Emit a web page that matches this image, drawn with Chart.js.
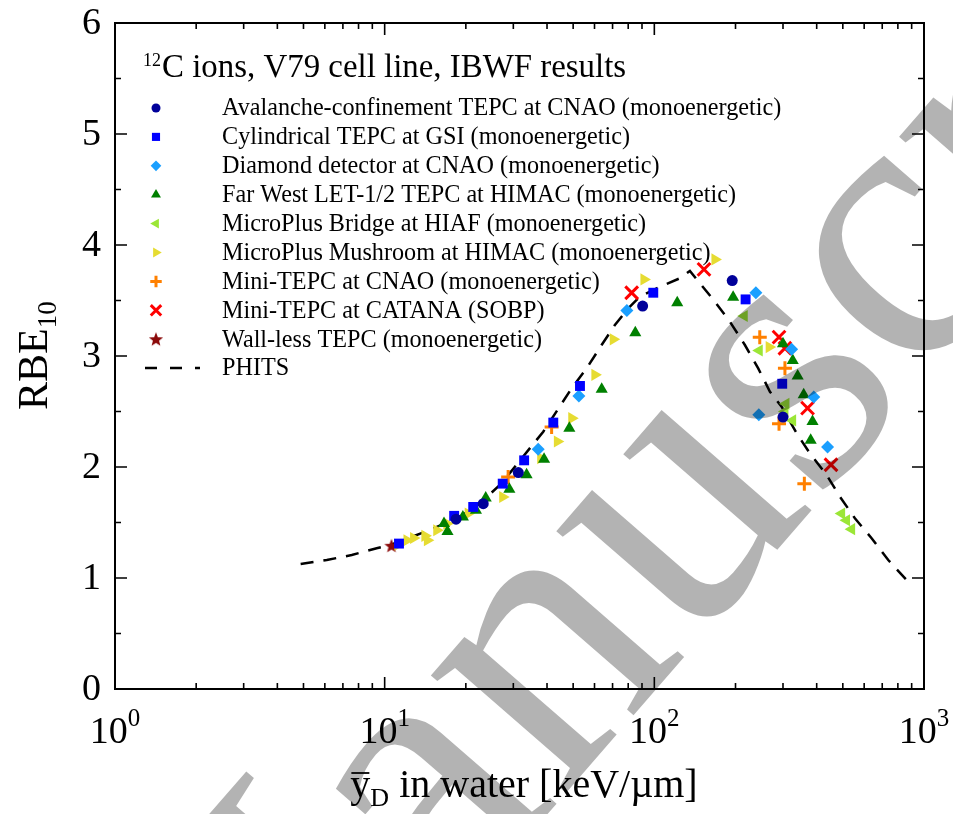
<!DOCTYPE html>
<html><head><meta charset="utf-8">
<script src="https://cdn.jsdelivr.net/npm/chart.js@4/dist/chart.umd.min.js"></script>
<style>html,body{margin:0;padding:0;background:#fff;overflow:hidden}#wrap{width:953px;height:814px;position:relative}</style>
</head><body><div id="wrap"><canvas id="c" width="953" height="814"></canvas></div>
<script>
// ---------- data ----------
const seriesNames = [
  'Avalanche-confinement TEPC at CNAO (monoenergetic)',
  'Cylindrical TEPC at GSI (monoenergetic)',
  'Diamond detector at CNAO (monoenergetic)',
  'Far West LET-1/2 TEPC at HIMAC (monoenergetic)',
  'MicroPlus Bridge at HIAF (monoenergetic)',
  'MicroPlus Mushroom at HIMAC (monoenergetic)',
  'Mini-TEPC at CNAO (monoenergetic)',
  'Mini-TEPC at CATANA (SOBP)',
  'Wall-less TEPC (monoenergetic)',
  'PHITS'
];
const avalancheCNAO = [[18.4,1.53],[23.2,1.67],[31.3,1.95],[90.5,3.45],[194.5,3.68],[300,2.45]];
const cylindricalGSI = [[11.3,1.31],[18.1,1.56],[21.3,1.64],[27.4,1.85],[32.9,2.06],[42.2,2.40],[53.0,2.73],[99.1,3.57],[218,3.51],[298,2.75]];
const diamondCNAO = [[37.1,2.16],[52.5,2.64],[79.1,3.41],[238,3.57],[323,3.06],[244,2.47],[390,2.63],[439,2.18]];
const farWestHIMAC = [[16.6,1.49],[17.1,1.42],[19.5,1.55],[21.8,1.61],[23.7,1.72],[29.0,1.80],[33.6,1.93],[39.0,2.07],[48.4,2.35],[63.8,2.70],[85.0,3.21],[121.6,3.48],[196,3.53],[300,3.11],[326,2.96],[340,2.82],[358,2.65],[386,2.41],[380,2.24]];
const bridgeHIAF = [[215.5,3.36],[245,3.05],[307.6,2.57],[305,2.50],[325.7,2.42],[495,1.58],[516,1.52],[539,1.44]];
const mushroomHIMAC = [[11.2,1.30],[12.1,1.34],[12.8,1.36],[14.1,1.38],[14.4,1.34],[15.6,1.43],[17.0,1.49],[20.4,1.58],[27.4,1.73],[37.9,2.08],[43.7,2.23],[49.4,2.44],[60.2,2.83],[70.4,3.15],[91.5,3.69],[167.8,3.87],[266.7,3.08]];
const miniCNAO = [[28.7,1.91],[41.6,2.36],[246,3.17],[305,2.89],[290,2.39],[360,1.85]];
const miniCATANA = [[82.4,3.57],[152.8,3.78],[290,3.17],[305,3.07],[370,2.53],[452,2.02]];
const walllessTEPC = [[10.6,1.29]];
const phitsX = [4.88,6.1,7.55,9.34,10.46,14.72,19.02,22.56,27.15,30.41,38.73,49.37,56.1,63.76,71.4,80.05,88.4,102,124.3,135.5,147.6,167.8,190.7,216.7,242.8,268.4,296.5,337,377.5,435.4,487.9,554.3,639.3,736.9,862,890];
const phitsY = [1.126,1.162,1.207,1.268,1.297,1.432,1.552,1.673,1.853,2.003,2.318,2.709,2.889,3.099,3.279,3.43,3.534,3.61,3.70,3.766,3.655,3.489,3.309,3.099,2.889,2.678,2.543,2.304,2.123,1.928,1.732,1.538,1.358,1.162,0.982,0.95];
const xTickValues = [1,10,100,1000];
const xTickExponents = ['0','1','2','3'];
const yTickValues = [0,1,2,3,4,5,6];

// ---------- helpers ----------
const SERIF = '"Liberation Serif", "Times New Roman", serif';
function toPts(arr){ return arr.map(p => ({x:p[0], y:p[1]})); }
function starCanvas(color){
  const c = document.createElement('canvas'); c.width = 16; c.height = 16;
  const g = c.getContext('2d'); g.fillStyle = color; g.beginPath();
  for (let i=0;i<10;i++){ const r = i%2 ? 3.2 : 7.5; const a = -Math.PI/2 + i*Math.PI/5;
    const px = 8 + r*Math.cos(a), py = 8.5 + r*Math.sin(a); i?g.lineTo(px,py):g.moveTo(px,py); }
  g.closePath(); g.fill(); return c;
}
const star = starCanvas('#8b0a0a');

function ds(label, arr, style, color, radius, extra){
  return Object.assign({label, data: toPts(arr), pointStyle: style, pointRadius: radius,
    backgroundColor: color, borderColor: color, borderWidth: 0, showLine:false}, extra||{});
}
const datasets = [
  ds(seriesNames[0], avalancheCNAO, 'circle', '#00009a', 5.5),
  ds(seriesNames[1], cylindricalGSI, 'rect', '#0000ff', 7),
  ds(seriesNames[2], diamondCNAO, 'rectRot', '#1a9fff', 6.5),
  ds(seriesNames[3], farWestHIMAC, 'triangle', '#008000', 7),
  ds(seriesNames[4], bridgeHIAF, 'triangle', '#9be636', 7, {pointRotation:-90}),
  ds(seriesNames[5], mushroomHIMAC, 'triangle', '#e6dc32', 7, {pointRotation:90}),
  ds(seriesNames[6], miniCNAO, 'cross', '#ff8000', 7, {borderWidth:3}),
  ds(seriesNames[7], miniCATANA, 'crossRot', '#ff0000', 9, {borderWidth:3}),
  ds(seriesNames[8], walllessTEPC, star, '#8b0a0a', 8),
  {label: seriesNames[9], data: phitsX.map((x,i)=>({x, y: phitsY[i]})), showLine:true, pointRadius:0,
   borderColor:'#000', borderWidth:2.5, borderDash:[13,10], tension:0, fill:false}
];
// draw PHITS first (under markers)
datasets[9].order = 10;

function fitFont(ctx, text, target, base){
  ctx.font = base + 'px ' + SERIF;
  const w = ctx.measureText(text).width;
  return base * target / w;
}

const decor = {
  id:'decor',
  beforeDraw(chart){
    const ctx = chart.ctx; ctx.save(); ctx.fillStyle='#fff'; ctx.fillRect(0,0,chart.width,chart.height); ctx.restore();
  },
  afterDraw(chart){
    const ctx = chart.ctx, xs = chart.scales.x, ys = chart.scales.y, a = chart.chartArea;
    ctx.save();
    ctx.strokeStyle = '#000'; ctx.fillStyle = '#000';
    // frame
    ctx.lineWidth = 2;
    ctx.strokeRect(a.left, a.top, a.right-a.left, a.bottom-a.top);
    // ticks
    ctx.lineWidth = 1.6;
    ctx.beginPath();
    yTickValues.forEach(v => { const y = ys.getPixelForValue(v);
      ctx.moveTo(a.left, y); ctx.lineTo(a.left+12, y); ctx.moveTo(a.right, y); ctx.lineTo(a.right-12, y); });
    for (let v=0.5; v<6; v+=1){ const y = ys.getPixelForValue(v);
      ctx.moveTo(a.left, y); ctx.lineTo(a.left+6, y); ctx.moveTo(a.right, y); ctx.lineTo(a.right-6, y); }
    xTickValues.forEach(v => { const x = xs.getPixelForValue(v);
      ctx.moveTo(x, a.bottom); ctx.lineTo(x, a.bottom-12); ctx.moveTo(x, a.top); ctx.lineTo(x, a.top+12); });
    for (let d=1; d<1000; d*=10) for (let m=2; m<10; m++){ const x = xs.getPixelForValue(d*m);
      ctx.moveTo(x, a.bottom); ctx.lineTo(x, a.bottom-6); ctx.moveTo(x, a.top); ctx.lineTo(x, a.top+6); }
    ctx.stroke();

    // y tick labels
    ctx.font = '38px ' + SERIF; ctx.textAlign='right'; ctx.textBaseline='middle';
    yTickValues.forEach(v => ctx.fillText(String(v), 101, ys.getPixelForValue(v)+1));
    // x tick labels 10^n
    ctx.textBaseline='alphabetic'; ctx.textAlign='left';
    xTickValues.forEach((v,i) => {
      const x = xs.getPixelForValue(v);
      ctx.font = '38px ' + SERIF; const w1 = ctx.measureText('10').width;
      ctx.font = '25px ' + SERIF; const w2 = ctx.measureText(xTickExponents[i]).width;
      const x0 = x - (w1 + w2)/2;
      ctx.font = '38px ' + SERIF; ctx.fillText('10', x0, 743);
      ctx.font = '25px ' + SERIF; ctx.fillText(xTickExponents[i], x0 + w1, 726);
    });
    // x title: y-bar_D in water [keV/µm]
    {
      const rest = ' in water [keV/\u00b5m]';
      const f = 40;
      ctx.font = f+'px '+SERIF; const wy = ctx.measureText('y').width; const wr = ctx.measureText(rest).width;
      ctx.font = Math.round(f*0.65)+'px '+SERIF; const wd = ctx.measureText('D').width;
      const total = wy + wd + wr; let x0 = 524 - total/2; const base = 797;
      ctx.font = f+'px '+SERIF; ctx.fillText('y', x0, base);
      ctx.lineWidth = 1.8; ctx.beginPath(); ctx.moveTo(x0+1, base-24); ctx.lineTo(x0+wy-1, base-24); ctx.stroke();
      ctx.font = Math.round(f*0.65)+'px '+SERIF; ctx.fillText('D', x0+wy, base+9);
      ctx.font = f+'px '+SERIF; ctx.fillText(rest, x0+wy+wd, base);
    }
    // y title RBE_10
    {
      ctx.save(); ctx.translate(47, 410); ctx.rotate(-Math.PI/2);
      ctx.font = '42px '+SERIF; ctx.fillText('RBE', 0, 0); const w = ctx.measureText('RBE').width;
      ctx.font = '27px '+SERIF; ctx.fillText('10', w, 9);
      ctx.restore();
    }
    // legend title
    {
      const main = 'C ions, V79 cell line, IBWF results';
      ctx.font = '18px '+SERIF; const ws = ctx.measureText('12').width;
      const f = fitFont(ctx, main, 625-161, 30);
      ctx.font = '18px '+SERIF; ctx.fillText('12', 143, 66);
      ctx.font = f.toFixed(1)+'px '+SERIF; ctx.fillText(main, 143+ws+1, 77);
    }
    // legend entries
    {
      const f = fitFont(ctx, seriesNames[0], 782-222, 22);
      const H = Chart.helpers;
      for (let i=0;i<seriesNames.length;i++){
        const y = 108 + i*28.9;
        const d = chart.data.datasets[i];
        ctx.font = f.toFixed(1)+'px '+SERIF; ctx.textBaseline='middle'; ctx.fillStyle='#000';
        ctx.fillText(seriesNames[i], 222, y+1);
        if (i < 9){
          ctx.fillStyle = d.backgroundColor; ctx.strokeStyle = d.borderColor; ctx.lineWidth = d.borderWidth || 0;
          const r = d.pointRadius * 0.82;
          if (H && H.drawPoint){
            H.drawPoint(ctx, {pointStyle: d.pointStyle, radius: r, rotation: d.pointRotation||0, borderWidth: d.borderWidth||0}, 156, y);
          }
        } else {
          ctx.strokeStyle='#000'; ctx.lineWidth=2.5; ctx.setLineDash([12,13]);
          ctx.beginPath(); ctx.moveTo(145,y); ctx.lineTo(200,y); ctx.stroke(); ctx.setLineDash([]);
        }
      }
    }
    ctx.restore();

    // watermark (multiply over everything)
    ctx.save();
    ctx.globalCompositeOperation = 'multiply';
    ctx.fillStyle = '#b3b3b3';
    ctx.font = '390px ' + SERIF;
    ctx.translate(219, 1192); ctx.rotate(-49*Math.PI/180);
    ctx.textBaseline = 'alphabetic'; ctx.textAlign='left';
    ctx.fillText('Manuscript', 0, 0);
    ctx.restore();
  }
};

new Chart(document.getElementById('c'), {
  type: 'scatter',
  data: { datasets },
  options: {
    responsive:false, animation:false, events:[],
    layout:{padding:{left:115, right:29, top:23, bottom:125}},
    plugins:{legend:{display:false}, tooltip:{enabled:false}},
    scales:{
      x:{type:'logarithmic', min:1, max:1000, display:false},
      y:{type:'linear', min:0, max:6, display:false}
    }
  },
  plugins:[decor]
});
</script></body></html>
